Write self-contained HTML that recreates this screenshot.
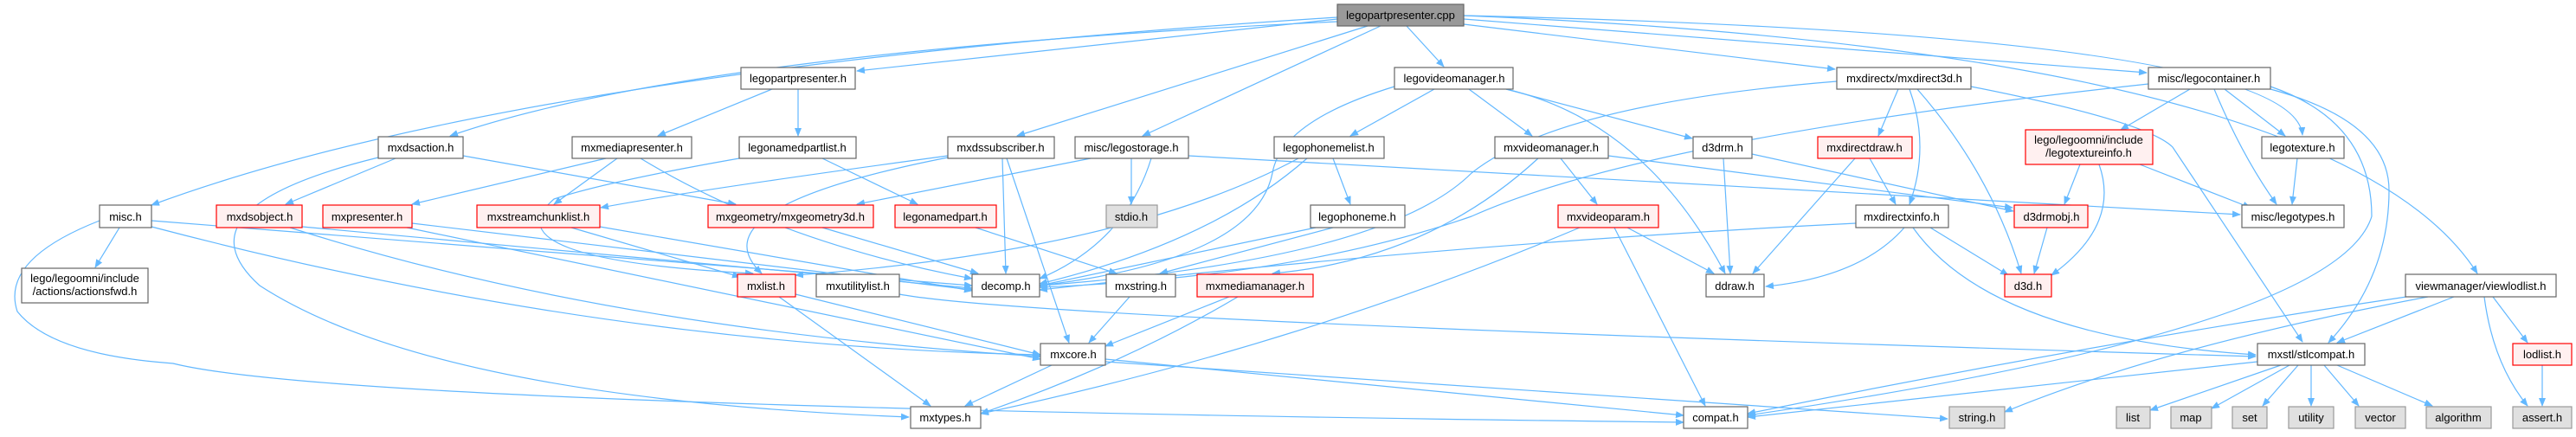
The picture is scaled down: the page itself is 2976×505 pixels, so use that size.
<!DOCTYPE html>
<html><head><meta charset="utf-8"><style>
html,body{margin:0;padding:0;background:#fff;}
svg{display:block}
text{font-family:"Liberation Sans",sans-serif;font-size:13px;fill:#000;text-anchor:middle;}
.e{fill:none;stroke:#63b8ff;stroke-width:1.2;marker-end:url(#a)}
.n{fill:#fff;stroke:#666;stroke-width:1.2}
.r{fill:#fff0f0;stroke:#ff0000;stroke-width:1.2}
.g{fill:#e0e0e0;stroke:#999;stroke-width:1.2}
.t{fill:#999;stroke:#666;stroke-width:1.2}
</style></head><body>
<svg width="2976" height="505" viewBox="0 0 2976 505" xmlns="http://www.w3.org/2000/svg">
<defs><marker id="a" markerWidth="10" markerHeight="8" refX="9" refY="4" orient="auto" markerUnits="userSpaceOnUse"><path d="M0,0 L10,4 L0,8 z" fill="#63b8ff"/></marker></defs>
<g>
<path class="e" d="M1545,22 L990,82"/>
<path class="e" d="M1625,30 L1668,77"/>
<path class="e" d="M1691,28 L2120,80"/>
<path class="e" d="M1691,22 L2480,84"/>
<path class="e" d="M1691,18 Q2650,40 2660,156"/>
<path class="e" d="M1691,18 Q2700,60 2862,316"/>
<path class="e" d="M1545,20 Q600,80 175,237"/>
<path class="e" d="M1545,25 Q800,60 520,157"/>
<path class="e" d="M1580,30 L1175,157"/>
<path class="e" d="M1595,30 L1320,157"/>
<path class="e" d="M892,103 L760,157"/>
<path class="e" d="M922,103 L922,157"/>
<path class="e" d="M457,183 L330,236"/>
<path class="e" d="M535,180 L850,236"/>
<path class="e" d="M437,182 Q200,240 300,330 Q500,460 1050,482"/>
<path class="e" d="M700,183 L476,236"/>
<path class="e" d="M713,183 L640,236"/>
<path class="e" d="M740,183 Q900,280 1123,322"/>
<path class="e" d="M950,183 L1060,236"/>
<path class="e" d="M854,183 Q700,210 640,230 Q560,300 870,316"/>
<path class="e" d="M1158,183 L1162,316"/>
<path class="e" d="M1163,183 L1235,396"/>
<path class="e" d="M1095,180 Q800,220 694,240"/>
<path class="e" d="M1095,182 Q800,240 880,316"/>
<path class="e" d="M1307,183 L1307,236"/>
<path class="e" d="M1260,183 L990,236"/>
<path class="e" d="M1373,180 L2588,248"/>
<path class="e" d="M1330,183 Q1300,280 1201,322"/>
<path class="e" d="M1657,103 L1560,157"/>
<path class="e" d="M1697,103 L1770,157"/>
<path class="e" d="M1740,103 L1955,160"/>
<path class="e" d="M1740,103 Q1900,140 1993,316"/>
<path class="e" d="M1611,100 Q1480,140 1470,200 Q1450,300 1201,330"/>
<path class="e" d="M1540,183 L1560,236"/>
<path class="e" d="M1510,183 Q1400,280 1201,328"/>
<path class="e" d="M1500,183 Q1300,290 919,318"/>
<path class="e" d="M1540,263 L1340,316"/>
<path class="e" d="M1520,263 L1201,330"/>
<path class="e" d="M1803,183 L1845,236"/>
<path class="e" d="M1777,183 Q1650,300 1470,316"/>
<path class="e" d="M1858,180 L2325,240"/>
<path class="e" d="M1880,263 L1980,316"/>
<path class="e" d="M1865,263 L1970,469"/>
<path class="e" d="M1825,263 Q1500,400 1133,478"/>
<path class="e" d="M1991,183 L1999,316"/>
<path class="e" d="M2024,178 L2326,244"/>
<path class="e" d="M2193,103 L2170,157"/>
<path class="e" d="M2206,103 Q2230,170 2206,236"/>
<path class="e" d="M2215,103 Q2300,200 2335,316"/>
<path class="e" d="M2277,100 Q2480,140 2510,170 L2660,395"/>
<path class="e" d="M2122,94 Q1800,120 1700,200 Q1600,300 1201,330"/>
<path class="e" d="M2143,183 L2025,316"/>
<path class="e" d="M2160,183 L2190,236"/>
<path class="e" d="M2230,263 L2320,318"/>
<path class="e" d="M2200,263 Q2150,320 2040,331"/>
<path class="e" d="M2210,263 Q2300,390 2606,410"/>
<path class="e" d="M2144,258 Q1700,280 1201,335"/>
<path class="e" d="M2530,103 L2450,150"/>
<path class="e" d="M2570,103 L2640,157"/>
<path class="e" d="M2558,103 Q2590,180 2630,236"/>
<path class="e" d="M2623,103 Q2760,140 2760,220 Q2760,320 2690,396"/>
<path class="e" d="M2623,100 Q2740,140 2740,250 Q2700,380 2019,480"/>
<path class="e" d="M2482,97 Q1900,160 1700,250 Q1500,320 1201,332"/>
<path class="e" d="M2403,190 L2385,236"/>
<path class="e" d="M2425,190 Q2450,260 2370,318"/>
<path class="e" d="M2472,190 L2600,240"/>
<path class="e" d="M2654,183 L2648,236"/>
<path class="e" d="M2365,263 L2350,316"/>
<path class="e" d="M2835,343 L2700,396"/>
<path class="e" d="M2880,343 L2920,396"/>
<path class="e" d="M2870,343 Q2880,420 2920,469"/>
<path class="e" d="M2780,343 Q2400,400 2019,478"/>
<path class="e" d="M2805,343 Q2500,400 2316,476"/>
<path class="e" d="M2937,422 L2937,469"/>
<path class="e" d="M2635,422 L2484,474"/>
<path class="e" d="M2645,422 L2555,472"/>
<path class="e" d="M2655,422 L2614,469"/>
<path class="e" d="M2670,422 L2670,469"/>
<path class="e" d="M2685,422 L2725,469"/>
<path class="e" d="M2700,422 L2810,469"/>
<path class="e" d="M2608,418 L2019,482"/>
<path class="e" d="M138,263 L110,309"/>
<path class="e" d="M175,255 L1123,330"/>
<path class="e" d="M175,262 Q700,400 1202,410"/>
<path class="e" d="M115,255 Q0,300 20,360 Q60,410 200,420 Q400,470 1945,488"/>
<path class="e" d="M349,262 L1123,333"/>
<path class="e" d="M335,263 Q700,380 1202,412"/>
<path class="e" d="M476,258 L1123,335"/>
<path class="e" d="M470,263 L1202,415"/>
<path class="e" d="M693,262 L1123,336"/>
<path class="e" d="M660,263 L855,320"/>
<path class="e" d="M950,263 L1130,316"/>
<path class="e" d="M1127,263 L1290,316"/>
<path class="e" d="M919,340 L1202,410"/>
<path class="e" d="M900,343 L1075,469"/>
<path class="e" d="M1039,340 Q1200,370 2606,412"/>
<path class="e" d="M1305,343 L1258,396"/>
<path class="e" d="M1420,343 L1277,400"/>
<path class="e" d="M1430,343 Q1300,420 1133,478"/>
<path class="e" d="M1215,422 L1115,469"/>
<path class="e" d="M1277,415 L1945,480"/>
<path class="e" d="M1277,418 L2250,484"/>
</g>
<g>
<rect class="t" x="1545" y="5" width="146" height="25"/><text x="1618" y="22">legopartpresenter.cpp</text>
<rect class="n" x="856" y="78" width="132" height="25"/><text x="922" y="95">legopartpresenter.h</text>
<rect class="n" x="1611" y="78" width="137" height="25"/><text x="1680" y="95">legovideomanager.h</text>
<rect class="n" x="2122" y="78" width="155" height="25"/><text x="2200" y="95">mxdirectx/mxdirect3d.h</text>
<rect class="n" x="2482" y="78" width="141" height="25"/><text x="2552" y="95">misc/legocontainer.h</text>
<rect class="n" x="437" y="158" width="98" height="25"/><text x="486" y="175">mxdsaction.h</text>
<rect class="n" x="661" y="158" width="138" height="25"/><text x="730" y="175">mxmediapresenter.h</text>
<rect class="n" x="854" y="158" width="135" height="25"/><text x="921" y="175">legonamedpartlist.h</text>
<rect class="n" x="1095" y="158" width="123" height="25"/><text x="1156" y="175">mxdssubscriber.h</text>
<rect class="n" x="1242" y="158" width="131" height="25"/><text x="1307" y="175">misc/legostorage.h</text>
<rect class="n" x="1472" y="158" width="127" height="25"/><text x="1535" y="175">legophonemelist.h</text>
<rect class="n" x="1727" y="158" width="131" height="25"/><text x="1792" y="175">mxvideomanager.h</text>
<rect class="n" x="1956" y="158" width="68" height="25"/><text x="1990" y="175">d3drm.h</text>
<rect class="r" x="2100" y="158" width="109" height="25"/><text x="2154" y="175">mxdirectdraw.h</text>
<rect class="r" x="2340" y="150" width="147" height="40"/><text x="2413" y="166">lego/legoomni/include</text><text x="2413" y="181">/legotextureinfo.h</text>
<rect class="n" x="2613" y="158" width="95" height="25"/><text x="2660" y="175">legotexture.h</text>
<rect class="n" x="115" y="237" width="60" height="26"/><text x="145" y="255">misc.h</text>
<rect class="r" x="250" y="237" width="99" height="26"/><text x="300" y="255">mxdsobject.h</text>
<rect class="r" x="373" y="237" width="103" height="26"/><text x="424" y="255">mxpresenter.h</text>
<rect class="r" x="551" y="237" width="142" height="26"/><text x="622" y="255">mxstreamchunklist.h</text>
<rect class="r" x="818" y="237" width="191" height="26"/><text x="913" y="255">mxgeometry/mxgeometry3d.h</text>
<rect class="r" x="1034" y="237" width="117" height="26"/><text x="1092" y="255">legonamedpart.h</text>
<rect class="g" x="1278" y="237" width="59" height="26"/><text x="1307" y="255">stdio.h</text>
<rect class="n" x="1514" y="237" width="109" height="26"/><text x="1568" y="255">legophoneme.h</text>
<rect class="r" x="1800" y="237" width="116" height="26"/><text x="1858" y="255">mxvideoparam.h</text>
<rect class="n" x="2144" y="237" width="107" height="26"/><text x="2197" y="255">mxdirectxinfo.h</text>
<rect class="r" x="2327" y="237" width="85" height="26"/><text x="2370" y="255">d3drmobj.h</text>
<rect class="n" x="2590" y="237" width="118" height="26"/><text x="2649" y="255">misc/legotypes.h</text>
<rect class="n" x="25" y="310" width="146" height="40"/><text x="98" y="326">lego/legoomni/include</text><text x="98" y="341">/actions/actionsfwd.h</text>
<rect class="r" x="852" y="317" width="67" height="26"/><text x="885" y="335">mxlist.h</text>
<rect class="n" x="943" y="317" width="96" height="26"/><text x="991" y="335">mxutilitylist.h</text>
<rect class="n" x="1123" y="317" width="78" height="26"/><text x="1162" y="335">decomp.h</text>
<rect class="n" x="1278" y="317" width="80" height="26"/><text x="1318" y="335">mxstring.h</text>
<rect class="r" x="1383" y="317" width="134" height="26"/><text x="1450" y="335">mxmediamanager.h</text>
<rect class="n" x="1971" y="317" width="67" height="26"/><text x="2004" y="335">ddraw.h</text>
<rect class="r" x="2316" y="317" width="54" height="26"/><text x="2343" y="335">d3d.h</text>
<rect class="n" x="2779" y="317" width="174" height="26"/><text x="2866" y="335">viewmanager/viewlodlist.h</text>
<rect class="n" x="1202" y="397" width="75" height="25"/><text x="1240" y="414">mxcore.h</text>
<rect class="n" x="2608" y="397" width="124" height="25"/><text x="2670" y="414">mxstl/stlcompat.h</text>
<rect class="r" x="2903" y="397" width="68" height="25"/><text x="2937" y="414">lodlist.h</text>
<rect class="n" x="1052" y="470" width="81" height="25"/><text x="1092" y="487">mxtypes.h</text>
<rect class="n" x="1945" y="470" width="74" height="25"/><text x="1982" y="487">compat.h</text>
<rect class="g" x="2252" y="470" width="64" height="25"/><text x="2284" y="487">string.h</text>
<rect class="g" x="2445" y="470" width="39" height="25"/><text x="2464" y="487">list</text>
<rect class="g" x="2508" y="470" width="47" height="25"/><text x="2531" y="487">map</text>
<rect class="g" x="2579" y="470" width="40" height="25"/><text x="2599" y="487">set</text>
<rect class="g" x="2644" y="470" width="52" height="25"/><text x="2670" y="487">utility</text>
<rect class="g" x="2721" y="470" width="58" height="25"/><text x="2750" y="487">vector</text>
<rect class="g" x="2803" y="470" width="75" height="25"/><text x="2840" y="487">algorithm</text>
<rect class="g" x="2903" y="470" width="68" height="25"/><text x="2937" y="487">assert.h</text>
</g>
</svg>
</body></html>
